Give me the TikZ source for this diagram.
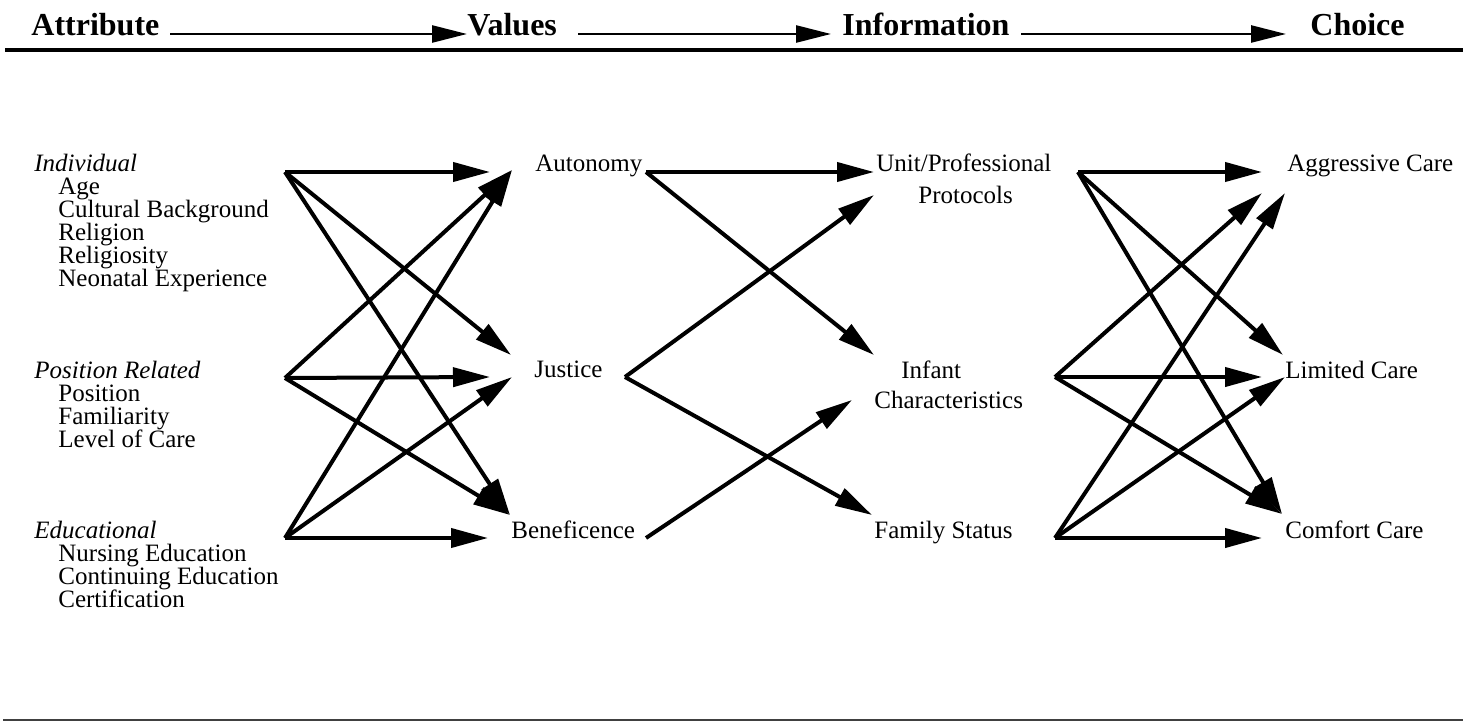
\documentclass[tikz,border=0pt]{standalone}
\usepackage{fontspec}
\setmainfont{Liberation Serif}
\usetikzlibrary{arrows.meta}
\begin{document}
\begin{tikzpicture}[x=0.5pt,y=-0.5pt,
  lbl/.style={inner sep=0pt,anchor=base west,font=\fontsize{12.5}{11.5}\selectfont},
  hdr/.style={inner sep=0pt,anchor=base west,font=\fontsize{16}{18}\selectfont\bfseries},
  ar/.style={line width=2pt,-{Triangle[length=18.5pt,width=9.5pt]}},
  har/.style={line width=1.3pt,-{Triangle[length=17.5pt,width=8.5pt]}}]
\useasboundingbox (0,0) rectangle (1463,722);
\fill[white] (0,0) rectangle (1463,722);
% header
\node[hdr] (hA) at (31,36) {Attribute};
\node[hdr] (hV) at (467,36) {Values};
\node[hdr] (hI) at (842,36) {Information};
\node[hdr] (hC) at (1310,36) {Choice};
\coordinate (h1s) at (170,34); \coordinate (h1e) at (467,34);
\coordinate (h2s) at (578,34); \coordinate (h2e) at (831,34);
\coordinate (h3s) at (1021,34); \coordinate (h3e) at (1286,34);
\draw[har] (h1s) -- (h1e);
\draw[har] (h2s) -- (h2e);
\draw[har] (h3s) -- (h3e);
\coordinate (r1a) at (5,50); \coordinate (r1b) at (1463,50);
\draw[line width=2pt] (r1a) -- (r1b);
\coordinate (r2a) at (3,720); \coordinate (r2b) at (1463,720);
\draw[line width=0.9pt,black!75] (r2a) -- (r2b);
% attribute column
\node[lbl,font=\fontsize{12.5}{11.5}\selectfont\itshape] (ind) at (34,172) {Individual};
\node[lbl] (indL) at (58,195) {\vtop{\hbox{Age}\hbox{Cultural Background}\hbox{Religion}\hbox{Religiosity}\hbox{Neonatal Experience}}};
\node[lbl,font=\fontsize{12.5}{11.5}\selectfont\itshape] (pos) at (34,378) {Position Related};
\node[lbl] (posL) at (58,401) {\vtop{\hbox{Position}\hbox{Familiarity}\hbox{Level of Care}}};
\node[lbl,font=\fontsize{12.5}{11.5}\selectfont\itshape] (edu) at (34,538) {Educational};
\node[lbl] (eduL) at (58,561) {\vtop{\hbox{Nursing Education}\hbox{Continuing Education}\hbox{Certification}}};
% values column
\node[lbl] (aut) at (535,172) {Autonomy};
\node[lbl] (jus) at (534,377) {Justice};
\node[lbl] (ben) at (511,538) {Beneficence};
% information column
\node[lbl] (uni) at (876,172) {Unit/Professional};
\node[lbl] (unib) at (918,204) {Protocols};
\node[lbl] (inf) at (901,378) {Infant};
\node[lbl] (infb) at (874,408) {Characteristics};
\node[lbl] (fam) at (874,538) {Family Status};
% choice column
\node[lbl] (agg) at (1287,172) {Aggressive Care};
\node[lbl] (lim) at (1285,378) {Limited Care};
\node[lbl] (com) at (1285,538) {Comfort Care};
% sources
\coordinate (indS) at (285,172);
\coordinate (posS) at (285,378);
\coordinate (eduS) at (285,538);
\coordinate (autS) at (646,172);
\coordinate (jusS) at (625,377);
\coordinate (benS) at (646,538);
\coordinate (uniS) at (1078,172);
\coordinate (infS) at (1055,377);
\coordinate (famS) at (1055,538);
% tips
\coordinate (tIA) at (490,172);
\coordinate (tXA) at (512,170);
\coordinate (tIJ) at (511,355);
\coordinate (tPJ) at (490,377);
\coordinate (tEJ) at (512,377);
\coordinate (tXB) at (510,515);
\coordinate (tEB) at (488,538);
\coordinate (tAU) at (874,172);
\coordinate (tJU) at (874,195);
\coordinate (tAI) at (874,355);
\coordinate (tBI) at (852,400);
\coordinate (tJF) at (872,515);
\coordinate (tUG) at (1262,172);
\coordinate (tUL) at (1283,355);
\coordinate (tXC) at (1282,514);
\coordinate (tIG) at (1262,193);
\coordinate (tIL) at (1262,377);
\coordinate (tFG) at (1285,193);
\coordinate (tFL) at (1285,377);
\coordinate (tFC) at (1262,538);
% left arrows
\draw[ar] (indS) -- (tIA);
\draw[ar] (indS) -- (tIJ);
\draw[ar] (indS) -- (tXB);
\draw[ar] (posS) -- (tXA);
\draw[ar] (posS) -- (tPJ);
\draw[ar] (posS) -- (tXB);
\draw[ar] (eduS) -- (tXA);
\draw[ar] (eduS) -- (tEJ);
\draw[ar] (eduS) -- (tEB);
% middle arrows
\draw[ar] (autS) -- (tAU);
\draw[ar] (autS) -- (tAI);
\draw[ar] (jusS) -- (tJU);
\draw[ar] (jusS) -- (tJF);
\draw[ar] (benS) -- (tBI);
% right arrows
\draw[ar] (uniS) -- (tUG);
\draw[ar] (uniS) -- (tUL);
\draw[ar] (uniS) -- (tXC);
\draw[ar] (infS) -- (tIG);
\draw[ar] (infS) -- (tIL);
\draw[ar] (infS) -- (tXC);
\draw[ar] (famS) -- (tFG);
\draw[ar] (famS) -- (tFL);
\draw[ar] (famS) -- (tFC);
\end{tikzpicture}
\end{document}
